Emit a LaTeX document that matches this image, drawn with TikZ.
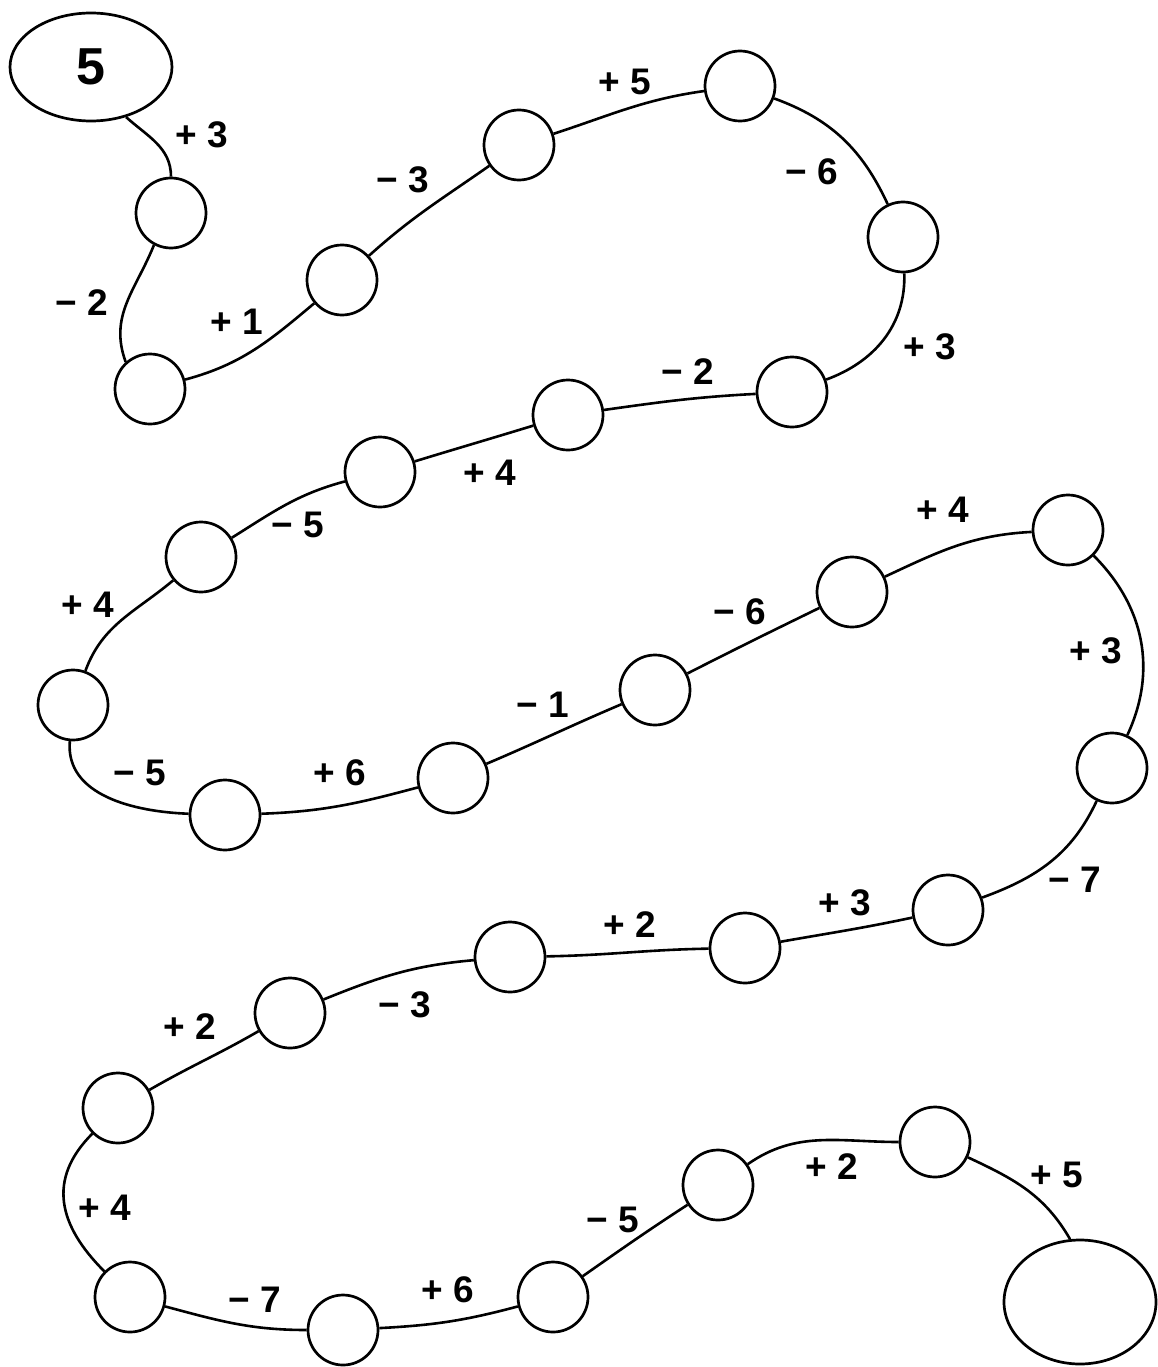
\documentclass[tikz,border=0pt]{standalone}
\usepackage{fontspec}
\setmainfont{Liberation Sans}
\usetikzlibrary{shapes.geometric}
\begin{document}
\begin{tikzpicture}[x=1pt,y=1pt,
  ball/.style={circle,draw,line width=2.7pt,minimum size=70pt,inner sep=0pt},
  oval/.style={ellipse,draw,line width=2.7pt,inner sep=0pt},
  link/.style={line width=2.6pt},
  lab/.style={font=\fontsize{37}{40}\selectfont\bfseries,inner sep=0pt}]
\useasboundingbox (0,0) rectangle (1158,-1367);
% start / end
\node[oval,minimum width=162pt,minimum height=108pt,font=\fontsize{52}{56}\selectfont\bfseries] (s) at (91,-67) {5};
\node[oval,minimum width=152pt,minimum height=124pt] (e) at (1080,-1302) {};
% balls
\node[ball] (c1) at (171,-213) {};
\node[ball] (c2) at (150,-389) {};
\node[ball] (c3) at (342,-280) {};
\node[ball] (c4) at (519,-145) {};
\node[ball] (c5) at (740,-86) {};
\node[ball] (c6) at (903,-237) {};
\node[ball] (c7) at (792,-392) {};
\node[ball] (c8) at (568,-415) {};
\node[ball] (c9) at (380,-472) {};
\node[ball] (c10) at (201,-557) {};
\node[ball] (c11) at (73,-705) {};
\node[ball] (c12) at (225,-815) {};
\node[ball] (c13) at (453,-778) {};
\node[ball] (c14) at (655,-690) {};
\node[ball] (c15) at (852,-592) {};
\node[ball] (c16) at (1068,-530) {};
\node[ball] (c17) at (1112,-768) {};
\node[ball] (c18) at (948,-910) {};
\node[ball] (c19) at (745,-948) {};
\node[ball] (c20) at (510,-957) {};
\node[ball] (c21) at (290,-1013) {};
\node[ball] (c22) at (118,-1108) {};
\node[ball] (c23) at (130,-1297) {};
\node[ball] (c24) at (343,-1330) {};
\node[ball] (c25) at (553,-1297) {};
\node[ball] (c26) at (718,-1185) {};
\node[ball] (c27) at (935,-1142) {};
% connectors
\draw[link] (s.-55) to[out=-42,in=90] (c1);
\draw[link] (c1.-118) to[out=-112,in=110,looseness=1.05] (c2.132);
\draw[link] (c2) to[out=15,in=-140] (c3);
\draw[link] (c3) to[out=42,in=-145] (c4);
\draw[link] (c4) to[out=18,in=188] (c5);
\draw[link] (c5) to[out=-20,in=115] (c6);
\draw[link] (c6) to[out=-88,in=20] (c7);
\draw[link] (c7) to[out=183,in=8] (c8);
\draw[link] (c8) to[out=197,in=17] (c9);
\draw[link] (c9) to[out=195,in=32] (c10);
\draw[link] (c10) to[out=-140,in=70] (c11);
\draw[link] (c11) to[out=-95,in=178] (c12);
\draw[link] (c12) to[out=2,in=195] (c13);
\draw[link] (c13) to[out=23,in=203] (c14);
\draw[link] (c14) to[out=27,in=206] (c15);
\draw[link] (c15) to[out=25,in=183] (c16);
\draw[link] (c16) to[out=-45,in=65] (c17);
\draw[link] (c17) to[out=-115,in=20] (c18);
\draw[link] (c18) to[out=192,in=10] (c19);
\draw[link] (c19) to[out=181,in=1] (c20);
\draw[link] (c20) to[out=185,in=22] (c21);
\draw[link] (c21) to[out=210,in=30] (c22);
\draw[link] (c22) to[out=-135,in=135,looseness=1.2] (c23);
\draw[link] (c23) to[out=-15,in=180] (c24);
\draw[link] (c24) to[out=3,in=195] (c25);
\draw[link] (c25) to[out=35,in=213] (c26);
\draw[link] (c26) to[out=35,in=180] (c27);
\draw[link] (c27) to[out=-25,in=120] (e.99);
% labels
\node[lab] (l1) at (202,-135) {+ 3};
\node[lab] (l2) at (82,-303) {− 2};
\node[lab] (l3) at (237,-322) {+ 1};
\node[lab] (l4) at (403,-180) {− 3};
\node[lab] (l5) at (625,-82) {+ 5};
\node[lab] (l6) at (812,-172) {− 6};
\node[lab] (l7) at (930,-347) {+ 3};
\node[lab] (l8) at (688,-372) {− 2};
\node[lab] (l9) at (490,-473) {+ 4};
\node[lab] (l10) at (298,-525) {− 5};
\node[lab] (l11) at (88,-605) {+ 4};
\node[lab] (l12) at (140,-773) {− 5};
\node[lab] (l13) at (340,-773) {+ 6};
\node[lab] (l14) at (543,-705) {− 1};
\node[lab] (l15) at (740,-612) {− 6};
\node[lab] (l16) at (943,-510) {+ 4};
\node[lab] (l17) at (1096,-651) {+ 3};
\node[lab] (l18) at (1075,-880) {− 7};
\node[lab] (l19) at (845,-903) {+ 3};
\node[lab] (l20) at (630,-925) {+ 2};
\node[lab] (l21) at (405,-1005) {− 3};
\node[lab] (l22) at (190,-1027) {+ 2};
\node[lab] (l23) at (105,-1208) {+ 4};
\node[lab] (l24) at (255,-1300) {− 7};
\node[lab] (l25) at (448,-1290) {+ 6};
\node[lab] (l26) at (613,-1220) {− 5};
\node[lab] (l27) at (832,-1167) {+ 2};
\node[lab] (l28) at (1057,-1175) {+ 5};
\end{tikzpicture}
\end{document}
